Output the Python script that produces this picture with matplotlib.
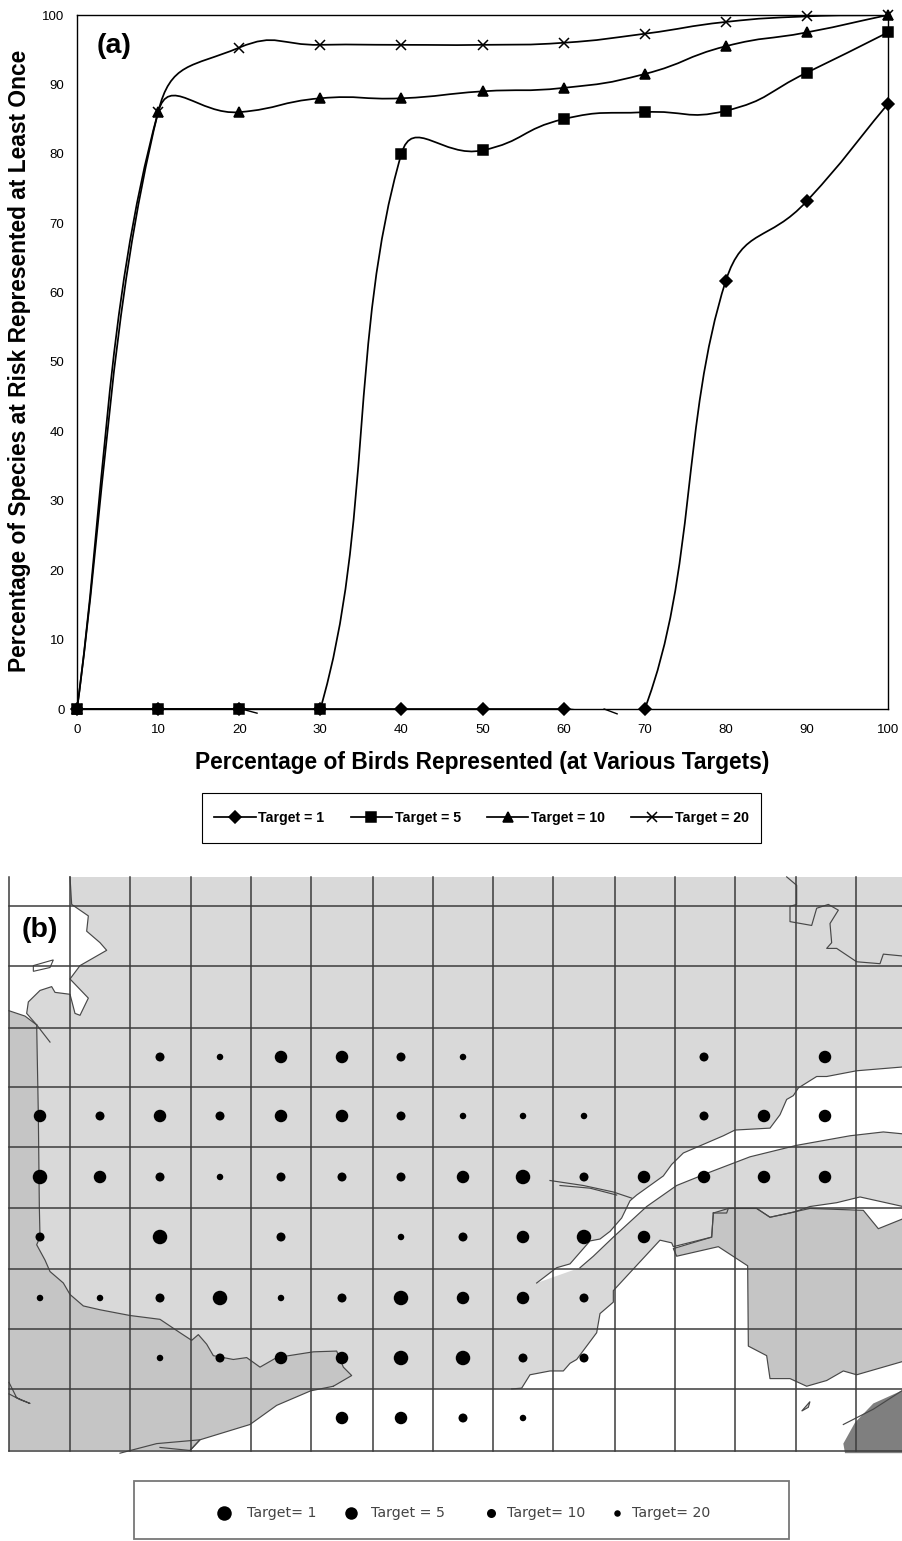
import numpy as np
import matplotlib
matplotlib.use("Agg")
import matplotlib.pyplot as plt
from matplotlib.path import Path
from matplotlib.patches import PathPatch, Polygon, Rectangle
from matplotlib.lines import Line2D

plt.rcParams['font.family'] = ['Liberation Sans', 'DejaVu Sans']

# ---------- panel (a) data ----------
x_pct = [0, 10, 20, 30, 40, 50, 60, 70, 80, 90, 100]
target_1 = [0, 0, 0, 0, 0, 0, 0, 0, 61.7, 73.2, 87.2]
target_5 = [0, 0, 0, 0, 80, 80.5, 85, 86, 86.2, 91.7, 97.5]
target_10 = [0, 86, 86, 88, 88, 89, 89.5, 91.5, 95.5, 97.5, 100]
target_20 = [0, 86, 95.3, 95.7, 95.7, 95.7, 96, 97.3, 99, 99.8, 100]
series_labels = ['Target = 1', 'Target = 5', 'Target = 10', 'Target = 20']
series_markers = ['D', 's', '^', 'x']
series_msize = [6, 7, 7.5, 7.5]
stray_a = [[(20.6, -0.1), (22.2, -0.6)], [(65.0, 0), (66.6, -0.7)]]

# ---------- panel (b) data ----------
grid_x = [9, 70, 130, 190.7, 250.7, 310.7, 372.7, 433, 493, 553, 615, 675, 735, 796, 856, 903]
grid_y = [906, 966, 1028, 1087, 1147, 1208, 1269, 1329, 1389, 1450.5]
dot_size = {1: 14.5, 5: 12.5, 10: 9, 20: 6.5}
dot_rows = {
    1057: {160: 10, 220: 20, 281: 5, 342: 5, 401: 10, 463: 20, 704: 10, 825: 5},
    1116: {40: 5, 100: 10, 160: 5, 220: 10, 281: 5, 342: 5, 401: 10, 463: 20, 523: 20, 584: 20, 704: 10, 764: 5, 825: 5},
    1177: {40: 1, 100: 5, 160: 10, 220: 20, 281: 10, 342: 10, 401: 10, 463: 5, 523: 1, 584: 10, 644: 5, 704: 5, 764: 5, 825: 5},
    1237: {40: 10, 160: 1, 281: 10, 401: 20, 463: 10, 523: 5, 584: 1, 644: 5},
    1298: {40: 20, 100: 20, 160: 10, 220: 1, 281: 20, 342: 10, 401: 1, 463: 5, 523: 5, 584: 10},
    1358: {160: 20, 220: 10, 281: 5, 342: 5, 401: 1, 463: 1, 523: 10, 584: 10},
    1418: {342: 5, 401: 5, 463: 10, 523: 20},
}
legend_b_targets = [1, 5, 10, 20]
legend_b_labels = ['Target= 1', 'Target = 5', 'Target= 10', 'Target= 20']
legend_b_dot_x = [224, 351, 491, 617]
legend_b_txt_x = [247, 371, 507, 632]

def z1(pts):
    return [(x / 3, 870 + y / 2.615) for x, y in pts]
def z2(pts):
    return [(450 + x / 3, 870 + y / 2.615) for x, y in pts]

north_shore = z2([(1359,515),(1220,525),(1130,540),(1100,540),(1045,570),(1030,590),(1010,600),(990,640),(960,675),(855,680),(820,695),(780,710),(700,740),(665,770),(640,800),(560,850),(540,865),(515,910),(480,945),(450,965),(420,970),(390,1000),(360,1030),(320,1040),(260,1080)])
estuary_south = z2([(390,1040),(430,1010),(490,960),(540,920),(590,880),(680,825),(780,790),(900,750),(1040,720),(1200,695),(1300,685),(1359,690)])
south_shore = z2([(1359,880),(1230,855),(1160,870),(1080,880),(1030,895),(960,908),(920,885),(835,885),(830,897),(790,897),(785,960),(670,985),(665,975),(630,968),(490,1100),(490,1130),(450,1160),(440,1210),(380,1280),(360,1290),(340,1310),(300,1310),(240,1320),(215,1355),(185,1357)])
kent_coast = z1([(1000,1350),(1055,1322),(1030,1300),(1010,1258),(940,1260),(830,1275),(780,1300),(740,1275),(700,1280),(640,1270),(620,1240),(595,1215),(575,1230),(540,1210),(480,1175),(390,1165),(300,1150),(250,1140),(210,1110),(190,1080),(150,1050),(135,1020),(110,980),(120,960),(118,880),(115,640),(110,405)])
nw_coast = z1([(110,405),(80,375),(85,345),(120,315),(155,305),(165,320),(210,325),(225,375),(240,380),(265,335),(210,285),(240,250),(320,210),(300,190),(260,160),(265,120),(215,90),(210,18)])
kent_south = z1([(1000,1350),(932,1362),(830,1400),(750,1450),(600,1490),(570,1518)])
west_line = z1([(27,368),(75,382),(110,405),(150,450)])
east_land = z2([(790,897),(835,885),(920,885),(960,908),(1080,885),(1240,890),(1285,938),(1359,912),(1359,1285),(1220,1320),(1180,1310),(1130,1335),(1070,1350),(1020,1330),(960,1330),(950,1270),(895,1245),(893,1035),(805,985),(680,1010),(670,990),(785,960)])
dark_land = z2([(1359,1360),(1270,1395),(1215,1445),(1180,1500),(1185,1525),(1359,1525)])
river = z2([(300,812),(400,825),(490,842),(545,858)])
river2 = z2([(330,825),(420,832),(500,850)])
ne_border = z2([(1010,18),(1040,40),(1040,90),(1020,95),(1020,135),(1085,145),(1100,100),(1135,90),(1165,105),(1140,140),(1145,190),(1130,205),(1160,205),(1220,240),(1290,245),(1300,220),(1359,225)])
lake = z1([(100,250),(160,235),(150,255),(100,265)])
isle = z2([(1055,1415),(1080,1390),(1075,1405)])
south_bits = z1([(360,1525),(470,1500),(600,1490),(570,1518),(480,1510)])
sw_bits = z1([(27,1340),(50,1380),(90,1395),(60,1385),(27,1370)])
dark_edge = z2([(1180,1450),(1270,1410),(1359,1360)])

fig = plt.figure(figsize=(9.03, 15.41), dpi=100, facecolor='white')

# ---------- page axes in pixel units: map and boxes ----------
page = fig.add_axes([0, 0, 1, 1])
page.set_xlim(0, 903)
page.set_ylim(1541, 0)
page.axis('off')

LIGHT, MED, DARK = '#d9d9d9', '#c5c5c5', '#7f7f7f'
light_poly = ([(70, 877), (903, 877)] + north_shore + estuary_south + south_shore
              + [(311, 1389)] + kent_coast + nw_coast)
page.add_patch(Polygon(light_poly, closed=True, fc=LIGHT, ec='none', zorder=1))
kent_poly = [(9, 1011)] + west_line[1:3] + kent_coast[::-1] + kent_south + [(190, 1450), (9, 1450)]
page.add_patch(Polygon(kent_poly, closed=True, fc=MED, ec='none', zorder=2))
page.add_patch(Polygon(east_land, closed=True, fc=MED, ec='none', zorder=2))
page.add_patch(Polygon(dark_land, closed=True, fc=DARK, ec='none', zorder=2))
page.add_patch(Polygon(lake, closed=True, fc='white', ec='#444444', lw=0.8, zorder=3))
page.add_patch(Polygon(isle, closed=True, fc=MED, ec='#444444', lw=0.8, zorder=3))

shores = [north_shore, estuary_south, south_shore, kent_coast, nw_coast, kent_south,
          west_line, river, river2, ne_border, south_bits, sw_bits, dark_edge, east_land + east_land[:1]]
for s in shores:
    sx, sy = zip(*s)
    page.plot(sx, sy, color='#484848', lw=0.85, zorder=4, solid_joinstyle='round')

for gx in grid_x[:-1]:
    page.plot([gx, gx], [877, 1450.5], color='#3c3c3c', lw=1.1, zorder=5)
for gy in grid_y:
    page.plot([9, 903], [gy, gy], color='#3c3c3c', lw=1.1, zorder=5)

for row_y, row in dot_rows.items():
    xs = list(row)
    ds = [dot_size[row[k]] for k in xs]
    page.scatter(xs, [row_y] * len(xs), s=[(d * 0.72) ** 2 for d in ds], color='black', lw=0, zorder=6)

page.text(22, 930, '(b)', fontsize=20.5, fontweight='bold', va='center', ha='left', zorder=7)

# legend boxes
page.add_patch(Rectangle((202, 793), 559, 50, fc='none', ec='black', lw=0.8, zorder=3))
page.add_patch(Rectangle((134.5, 1481), 655, 58, fc='white', ec='#777777', lw=1.3, zorder=3))
for t, lab, dx, tx in zip(legend_b_targets, legend_b_labels, legend_b_dot_x, legend_b_txt_x):
    page.scatter([dx], [1513], s=(dot_size[t] * 0.72) ** 2, color='black', lw=0, zorder=6)
    page.text(tx, 1513, lab, fontsize=10.2, family='DejaVu Sans', color='#444444',
              va='center', ha='left', zorder=6)

# ---------- panel (a) ----------
L, R, T, B = 77, 888, 15, 709
ax = fig.add_axes([L / 903, 1 - B / 1541, (R - L) / 903, (B - T) / 1541])
ax.patch.set_alpha(0)
ax.set_xlim(0, 100)
ax.set_ylim(0, 100)
sx_px, sy_px = (R - L) / 100, (B - T) / 100

def smooth_path(xs, ys):
    """Spreadsheet-style smoothed line through the points, as cubic Beziers."""
    p = np.array([xs, ys], float).T
    s = np.array([sx_px, sy_px])
    q = p * s
    n = len(q)
    d = np.zeros_like(q)
    for i in range(1, n - 1):
        v = q[i + 1] - q[i - 1]
        d[i] = v / np.linalg.norm(v)
    d[0] = (q[1] - q[0]) / np.linalg.norm(q[1] - q[0])
    d[-1] = (q[-1] - q[-2]) / np.linalg.norm(q[-1] - q[-2])
    verts, codes = [tuple(p[0])], [Path.MOVETO]
    for i in range(n - 1):
        length = np.linalg.norm(q[i + 1] - q[i])
        seg = length * (0.5 if length < 150 else 1 / 3)
        verts += [tuple((q[i] + d[i] * seg) / s), tuple((q[i + 1] - d[i + 1] * seg) / s), tuple(p[i + 1])]
        codes += [Path.CURVE4] * 3
    return Path(verts, codes)

all_series = [target_1, target_5, target_10, target_20]
handles = []
for ys, lab, mk, ms in zip(all_series, series_labels, series_markers, series_msize):
    ax.add_patch(PathPatch(smooth_path(x_pct, ys), fc='none', ec='black', lw=1.25, zorder=3))
    ax.plot(x_pct, ys, ls='none', marker=mk, ms=ms, color='black', mew=1.1,
            clip_on=False, zorder=4)
    handles.append(Line2D([], [], color='black', lw=1.25, marker=mk, ms=ms, mew=1.1, label=lab))
for st in stray_a:
    sx, sy = zip(*st)
    ax.plot(sx, sy, color='black', lw=1.0, clip_on=False, zorder=3)

ax.set_xticks(range(0, 101, 10))
ax.set_yticks(range(0, 101, 10))
ax.tick_params(axis='both', labelsize=9.5, length=0)
ax.tick_params(axis='x', pad=10.5)
ax.tick_params(axis='y', pad=9)
for sp in ax.spines.values():
    sp.set_linewidth(1.0)
ax.text(2.4, 95.6, '(a)', fontsize=20.5, fontweight='bold', va='center', ha='left')
fig.text(482.5 / 903, 1 - 763 / 1541, 'Percentage of Birds Represented (at Various Targets)',
         fontsize=16.4, fontweight='bold', ha='center', va='center')
fig.text(20 / 903, 1 - 361 / 1541, 'Percentage of Species at Risk Represented at Least Once',
         fontsize=16.4, fontweight='bold', ha='center', va='center', rotation=90)
fig.legend(handles=handles, ncol=4, loc='center left', bbox_to_anchor=(214.5 / 903, 1 - 818 / 1541),
           frameon=False, prop={'weight': 'bold', 'size': 10.2}, handlelength=2.9, handletextpad=0.2,
           columnspacing=1.85, borderpad=0, borderaxespad=0)

fig.savefig('out.png', dpi=100, facecolor='white')
